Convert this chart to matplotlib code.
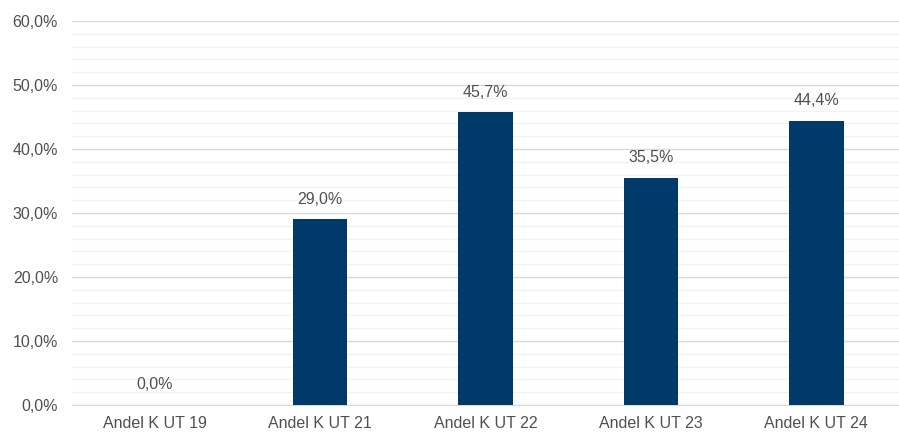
import numpy as np
import matplotlib
matplotlib.use('Agg')
import matplotlib.pyplot as plt
from matplotlib.ticker import MultipleLocator, FuncFormatter

# data
categories = ['Andel K UT 19', 'Andel K UT 21', 'Andel K UT 22',
              'Andel K UT 23', 'Andel K UT 24']
values = [0.0, 29.0, 45.7, 35.5, 44.4]

plt.rcParams['font.family'] = ['Liberation Sans', 'DejaVu Sans']
text_color = '#505050'
bar_color = '#003A6B'

fig = plt.figure(figsize=(8.99, 4.46), dpi=100)
ax = fig.add_axes([0.080, 0.092, 0.92, 0.861])

x = np.arange(len(categories))
ax.bar(x, values, width=0.33, color=bar_color, zorder=3)

for xi, v in zip(x, values):
    ax.annotate(f'{v:.1f}%'.replace('.', ','), (xi, v),
                xytext=(0, 9), textcoords='offset points',
                ha='center', va='bottom', fontsize=11.5, color=text_color)

ax.set_xlim(-0.5, len(categories) - 0.5)
ax.set_ylim(0, 60)
ax.yaxis.set_major_locator(MultipleLocator(10))
ax.yaxis.set_minor_locator(MultipleLocator(2))
ax.yaxis.set_major_formatter(FuncFormatter(lambda v, p: f'{v:.1f}%'.replace('.', ',')))
ax.grid(axis='y', which='major', color='#D9D9D9', linewidth=1.0, zorder=1)
ax.grid(axis='y', which='minor', color='#F2F2F2', linewidth=1.0, zorder=0)

ax.set_xticks(x)
ax.set_xticklabels(categories)
ax.tick_params(axis='both', which='both', length=0, labelsize=11.5,
               labelcolor=text_color)
ax.tick_params(axis='x', pad=8)
ax.tick_params(axis='y', pad=10)

for s in ['top', 'right', 'left']:
    ax.spines[s].set_visible(False)
ax.spines['bottom'].set_color('#D9D9D9')

fig.savefig('out.png', dpi=100)
